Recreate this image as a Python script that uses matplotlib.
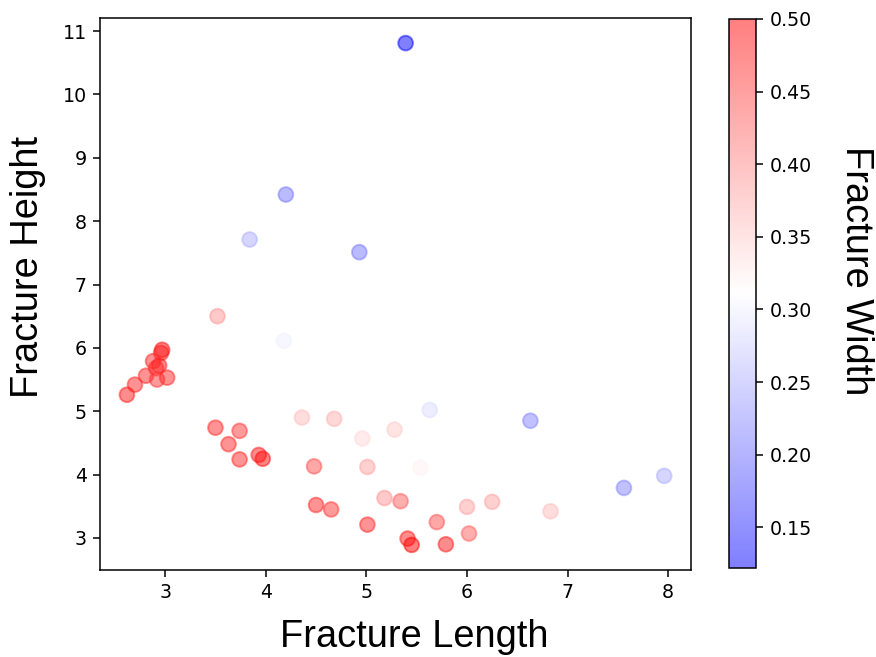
import matplotlib
matplotlib.use("Agg")
import matplotlib.pyplot as plt
import numpy as np

# Fracture measurements
fracture_length = [
    5.39, 4.20, 3.84, 4.93, 3.52, 4.18,
    2.97, 2.96, 2.88, 2.94, 2.91, 2.81, 2.92, 3.02, 2.70, 2.62,
    3.50, 3.74, 3.63, 3.74, 3.93, 3.97,
    4.36, 4.68, 4.96, 5.28, 5.63, 4.48, 5.01, 5.54,
    4.50, 4.65, 5.18, 5.34, 5.01, 5.41, 5.45, 5.70, 5.79,
    6.00, 6.25, 6.02, 6.83, 6.63, 7.56, 7.96,
]
fracture_height = [
    10.81, 8.42, 7.71, 7.51, 6.50, 6.11,
    5.97, 5.92, 5.79, 5.72, 5.68, 5.56, 5.50, 5.53, 5.42, 5.26,
    4.74, 4.69, 4.48, 4.24, 4.31, 4.25,
    4.90, 4.88, 4.57, 4.71, 5.02, 4.13, 4.12, 4.11,
    3.52, 3.45, 3.63, 3.58, 3.21, 2.99, 2.89, 3.25, 2.90,
    3.49, 3.57, 3.07, 3.42, 4.85, 3.79, 3.98,
]
fracture_width = [
    0.122, 0.21, 0.25, 0.21, 0.39, 0.30,
    0.49, 0.48, 0.47, 0.48, 0.47, 0.47, 0.46, 0.47, 0.47, 0.48,
    0.47, 0.46, 0.47, 0.47, 0.48, 0.49,
    0.36, 0.37, 0.34, 0.35, 0.285, 0.44, 0.38, 0.32,
    0.47, 0.46, 0.39, 0.43, 0.47, 0.48, 0.50, 0.44, 0.48,
    0.38, 0.38, 0.43, 0.36, 0.22, 0.22, 0.25,
]

fig = plt.figure(figsize=(6.4, 4.8), dpi=136.875)
ax = fig.add_axes([0.1142, 0.1324, 0.6747, 0.8402])
cax = fig.add_axes([0.8322, 0.1355, 0.0308, 0.8356])

sc = ax.scatter(fracture_length, fracture_height, c=fracture_width,
                cmap="bwr", alpha=0.5, s=60)
cbar = fig.colorbar(sc, cax=cax)

label_font = dict(family="Liberation Sans", fontsize=20)
fig.text(414 / 876, 0.0304, "Fracture Length", ha="center", va="center", **label_font)
fig.text(28 / 876, 0.594, "Fracture Height", ha="center", va="center",
         rotation=90, **label_font)
fig.text(856 / 876, 0.5875, "Fracture Width", ha="center", va="center",
         rotation=270, **label_font)

fig.savefig("out.png", dpi=136.875)
